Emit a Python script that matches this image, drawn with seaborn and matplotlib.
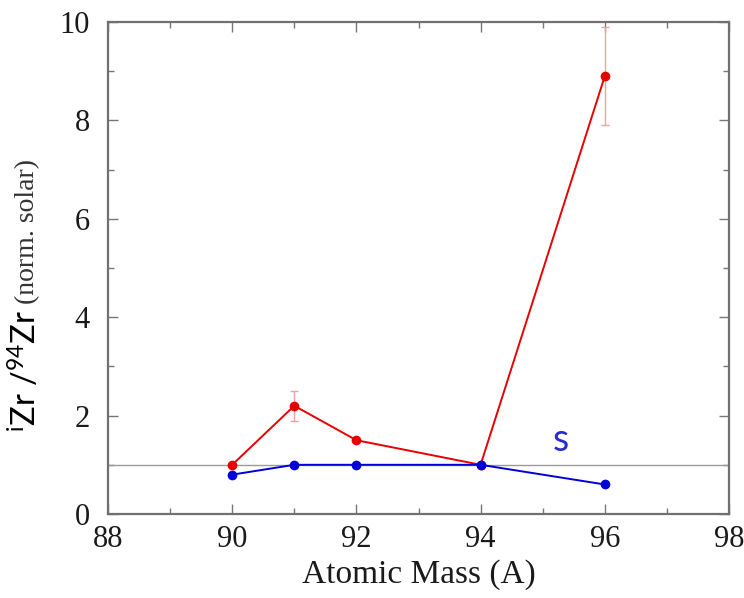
import matplotlib
matplotlib.use("Agg")
import matplotlib.pyplot as plt
from matplotlib.ticker import MultipleLocator
import seaborn as sns
import pandas as pd

# Zr isotope ratios normalised to solar, relative to 94Zr
mass = [90, 91, 92, 94, 96]
ratio_red = [1.0, 2.2, 1.5, 1.0, 8.9]
err_red = [0.0, 0.3, 0.0, 0.0, 1.0]
ratio_s = [0.8, 1.0, 1.0, 1.0, 0.6]

x_ticks = [88, 90, 92, 94, 96, 98]
y_ticks = [0, 2, 4, 6, 8, 10]

sns.set_style("ticks")
plt.rcParams["font.family"] = ["Liberation Serif", "DejaVu Serif"]
plt.rcParams["mathtext.fontset"] = "custom"
plt.rcParams["mathtext.rm"] = "Lato"
plt.rcParams["mathtext.it"] = "Lato:italic"

df = pd.DataFrame({"A": mass, "red": ratio_red, "s": ratio_s})

fig = plt.figure(figsize=(7.44, 5.98), dpi=100)
ax = fig.add_axes([108 / 744, 84 / 598, 621 / 744, 492 / 598])

# solar reference line
ax.axhline(1.0, color="#9a9a9a", lw=1.0, zorder=1)

ax.errorbar(mass, ratio_red, yerr=err_red, fmt="none", ecolor="#f2a0a0",
            elinewidth=1.0, capsize=3, capthick=1.0, zorder=2)
sns.lineplot(data=df, x="A", y="red", ax=ax, color="#e60000", lw=1.4,
             marker="o", markersize=7, markeredgewidth=0, zorder=3)
sns.lineplot(data=df, x="A", y="s", ax=ax, color="#0000d8", lw=1.4,
             marker="o", markersize=7, markeredgewidth=0, zorder=4)

ax.text(95.3, 1.5, "s", color="#2a2ad0", fontsize=27, family="Lato",
        ha="center", va="center")

ax.set_xlim(88, 98)
ax.set_ylim(0, 10)
ax.set_xticks(x_ticks)
ax.set_yticks(y_ticks)
ax.xaxis.set_minor_locator(MultipleLocator(1))
ax.yaxis.set_minor_locator(MultipleLocator(1))
ax.tick_params(which="both", direction="in", top=True, right=True,
               color="#777777", width=1.0)
ax.tick_params(which="major", length=7, labelsize=22, colors="#777777",
               labelcolor="#1a1a1a")
ax.tick_params(axis="x", which="major", pad=8)
ax.tick_params(axis="y", which="major", pad=13)
ax.tick_params(which="minor", length=4)
for sp in ax.spines.values():
    sp.set_color("#707070")
    sp.set_linewidth(1.6)

ax.set_xlabel("Atomic Mass (A)", fontsize=24, color="#1a1a1a", labelpad=4)
ax.set_ylabel("")

fig.text(37 / 744, 1 - 432 / 598, r"$^{\mathrm{i}}$Zr /$^{\mathrm{94}}$Zr",
         family="Lato", fontsize=23.5, color="black", rotation=90,
         rotation_mode="anchor", ha="left", va="baseline")
fig.text(34 / 744, 1 - 304 / 598, "(norm. solar)", fontsize=20,
         color="#333333", rotation=90, rotation_mode="anchor",
         ha="left", va="baseline")

fig.savefig("out.png", dpi=100, facecolor="white")
